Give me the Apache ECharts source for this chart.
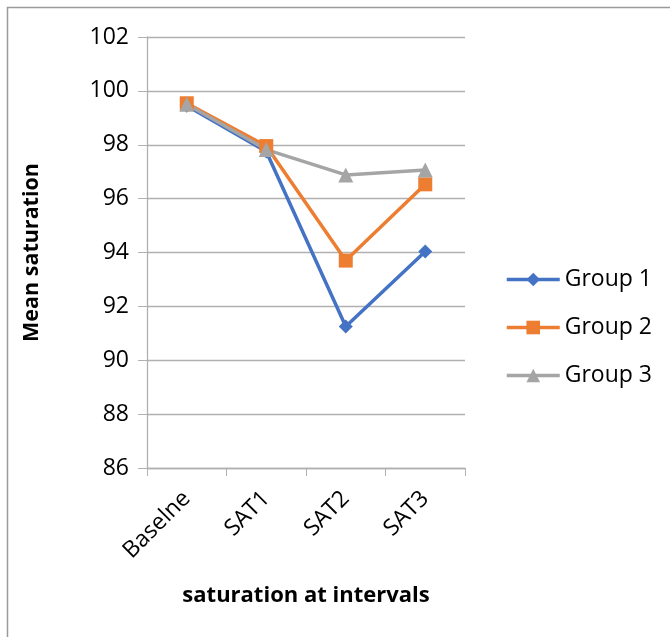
<!DOCTYPE html>
<html><head><meta charset="utf-8">
<script src="https://cdn.jsdelivr.net/npm/echarts@6/dist/echarts.min.js"></script>
<style>html,body{margin:0;padding:0;background:#fff}#c{width:670px;height:637px}</style>
</head><body><div id="c"></div>
<script>
const categories = ['Baselne', 'SAT1', 'SAT2', 'SAT3'];
const group1 = [99.45, 97.75, 91.25, 94.04];
const group2 = [99.54, 97.95, 93.7, 96.53];
const group3 = [99.5, 97.82, 96.88, 97.06];
const seriesNames = ['Group 1', 'Group 2', 'Group 3'];
const yTicks = {min: 86, max: 102, interval: 2};

const FONT = 'Open Sans';
const chart = echarts.init(document.getElementById('c'));
const mk = (name, data, color, symbol, size) => ({
  name, type: 'line', data, symbol, symbolSize: size,
  lineStyle: {color, width: 3.5}, itemStyle: {color}, z: 3
});
chart.setOption({
  animation: false,
  textStyle: {fontFamily: FONT},
  graphic: [{type: 'rect', shape: {x: 7.5, y: 7.5, width: 720, height: 720},
    style: {fill: 'none', stroke: '#9a9a9a', lineWidth: 1.5}, silent: true}],
  grid: {left: 147, right: 205, top: 37, bottom: 169},
  legend: {
    orient: 'vertical', left: 500, top: 263, itemGap: 25,
    itemWidth: 53, itemHeight: 17,
    lineStyle: {width: 3.5},
    textStyle: {fontSize: 23, color: '#000', fontFamily: FONT},
    data: seriesNames
  },
  xAxis: {
    type: 'category', data: categories, boundaryGap: true,
    name: 'saturation at intervals', nameLocation: 'middle', nameGap: 117,
    nameTextStyle: {fontSize: 22, fontWeight: 'bold', color: '#000'},
    axisLine: {lineStyle: {color: '#b0b0b0', width: 1.3}},
    axisTick: {show: true, length: 8, alignWithLabel: false, lineStyle: {color: '#b0b0b0'}},
    axisLabel: {rotate: 45, fontSize: 23, color: '#000', margin: 27}
  },
  yAxis: {
    type: 'value', min: yTicks.min, max: yTicks.max, interval: yTicks.interval,
    name: 'Mean saturation', nameLocation: 'middle', nameGap: 104, nameRotate: 90,
    nameTextStyle: {fontSize: 21.5, fontWeight: 'bold', color: '#000'},
    axisLine: {show: true, lineStyle: {color: '#b0b0b0', width: 1.3}},
    axisTick: {show: true, length: 9, lineStyle: {color: '#b0b0b0'}},
    splitLine: {lineStyle: {color: '#b0b0b0', width: 1.3}},
    axisLabel: {fontSize: 23, color: '#000', margin: 18}
  },
  series: [
    mk(seriesNames[0], group1, '#4472C4', 'diamond', 14),
    mk(seriesNames[1], group2, '#ED7D31', 'rect', 14),
    mk(seriesNames[2], group3, '#A5A5A5', 'triangle', 15)
  ]
});
</script></body></html>
